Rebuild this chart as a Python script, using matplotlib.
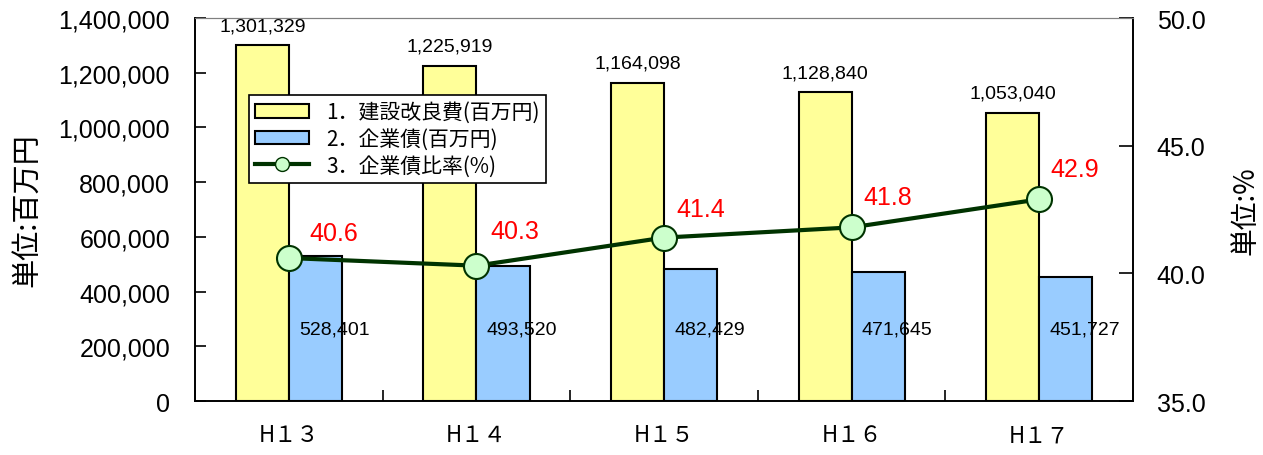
import matplotlib
matplotlib.use('Agg')
import numpy as np
import matplotlib.pyplot as plt
from matplotlib.patches import Patch
from matplotlib.lines import Line2D

plt.rcParams['font.family'] = ['Liberation Sans', 'Noto Sans CJK JP', 'DejaVu Sans']

# data
years = ['H１３', 'H１４', 'H１５', 'H１６', 'H１７']
construction = [1301329, 1225919, 1164098, 1128840, 1053040]
bonds = [528401, 493520, 482429, 471645, 451727]
ratio = [40.6, 40.3, 41.4, 41.8, 42.9]

# offsets (pixels) of the red ratio labels from the markers
ratioOffsets = [(45, 25), (38, 35), (37, 29), (36, 30), (35, 30)]

x = np.arange(len(years))
w = 0.283

fig = plt.figure(figsize=(12.63, 4.56), dpi=100)
ax = fig.add_axes([0.1544, 0.1184, 0.7427, 0.8399])
ax2 = ax.twinx()

ax.bar(x - w/2, construction, w, color='#ffff99', edgecolor='black', linewidth=1.5, zorder=2)
ax.bar(x + w/2, bonds, w, color='#99ccff', edgecolor='black', linewidth=1.5, zorder=2)

for i in range(len(years)):
    ax.annotate(f'{construction[i]:,}', (x[i] - w/2, construction[i]), xytext=(0, 11),
                textcoords='offset pixels', ha='center', va='bottom', fontsize=14)
    ax.text(x[i] + w/2 + 0.1, 265000, f'{bonds[i]:,}', ha='center', va='center', fontsize=14)

ax.set_xlim(-0.5, 4.5)
ax.set_ylim(0, 1400000)
ax.set_yticks(np.arange(0, 1400001, 200000))
ax.yaxis.set_major_formatter(matplotlib.ticker.FuncFormatter(lambda v, p: f'{int(v):,}'))
ax.tick_params(axis='y', direction='in', length=8, width=1.2, labelsize=18, pad=18)
ax.set_xticks(np.arange(-0.5, 4.6, 1))
ax.set_xticklabels([])
ax.set_xticks(x, minor=True)
ax.set_xticklabels(years, minor=True, fontsize=16, family=['Noto Sans CJK JP'])
ax.tick_params(axis='x', which='major', direction='in', length=8, width=1.2)
ax.tick_params(axis='x', which='minor', length=0, pad=16)
ax.set_ylabel('単位:百万円', fontsize=21, family=['Noto Sans CJK JP'], labelpad=12)

ax2.plot(x, ratio, color='#003300', linewidth=3, marker='o', markersize=18,
         markerfacecolor='#ccffcc', markeredgecolor='#003300', markeredgewidth=1.5, zorder=3)
for i in range(len(years)):
    ax2.annotate(f'{ratio[i]:.1f}', (x[i], ratio[i]), xytext=ratioOffsets[i],
                 textcoords='offset pixels', ha='center', va='center', fontsize=18, color='red')
ax2.set_ylim(35, 50)
ax2.set_yticks([35, 40, 45, 50])
ax2.yaxis.set_major_formatter(matplotlib.ticker.FormatStrFormatter('%.1f'))
ax2.tick_params(axis='y', direction='in', length=10, width=1.2, labelsize=18, pad=17)
ax2.set_ylabel('単位:%', fontsize=20, family=['Noto Sans CJK JP'], labelpad=18)

for a in (ax, ax2):
    for s in ('left', 'right', 'bottom'):
        a.spines[s].set_linewidth(1.2)
    a.spines['top'].set_color('#808080')

handles = [Patch(facecolor='#ffff99', edgecolor='black', linewidth=1.5),
           Patch(facecolor='#99ccff', edgecolor='black', linewidth=1.5),
           Line2D([], [], color='#003300', linewidth=3, marker='o', markersize=10,
                  markerfacecolor='#ccffcc', markeredgecolor='#003300')]
labels = ['1．建設改良費(百万円)', '2．企業債(百万円)', '3．企業債比率(%)']
leg = ax2.legend(handles, labels, loc='upper left', bbox_to_anchor=(0.0576, 0.799),
                 prop={'family': ['Noto Sans CJK JP'], 'size': 15}, frameon=True, fancybox=False,
                 framealpha=1, edgecolor='black', handlelength=2.6, handleheight=0.6,
                 borderaxespad=0, labelspacing=0.22, borderpad=0.3)
leg.get_frame().set_linewidth(1.2)

fig.savefig('out.png', dpi=100)
